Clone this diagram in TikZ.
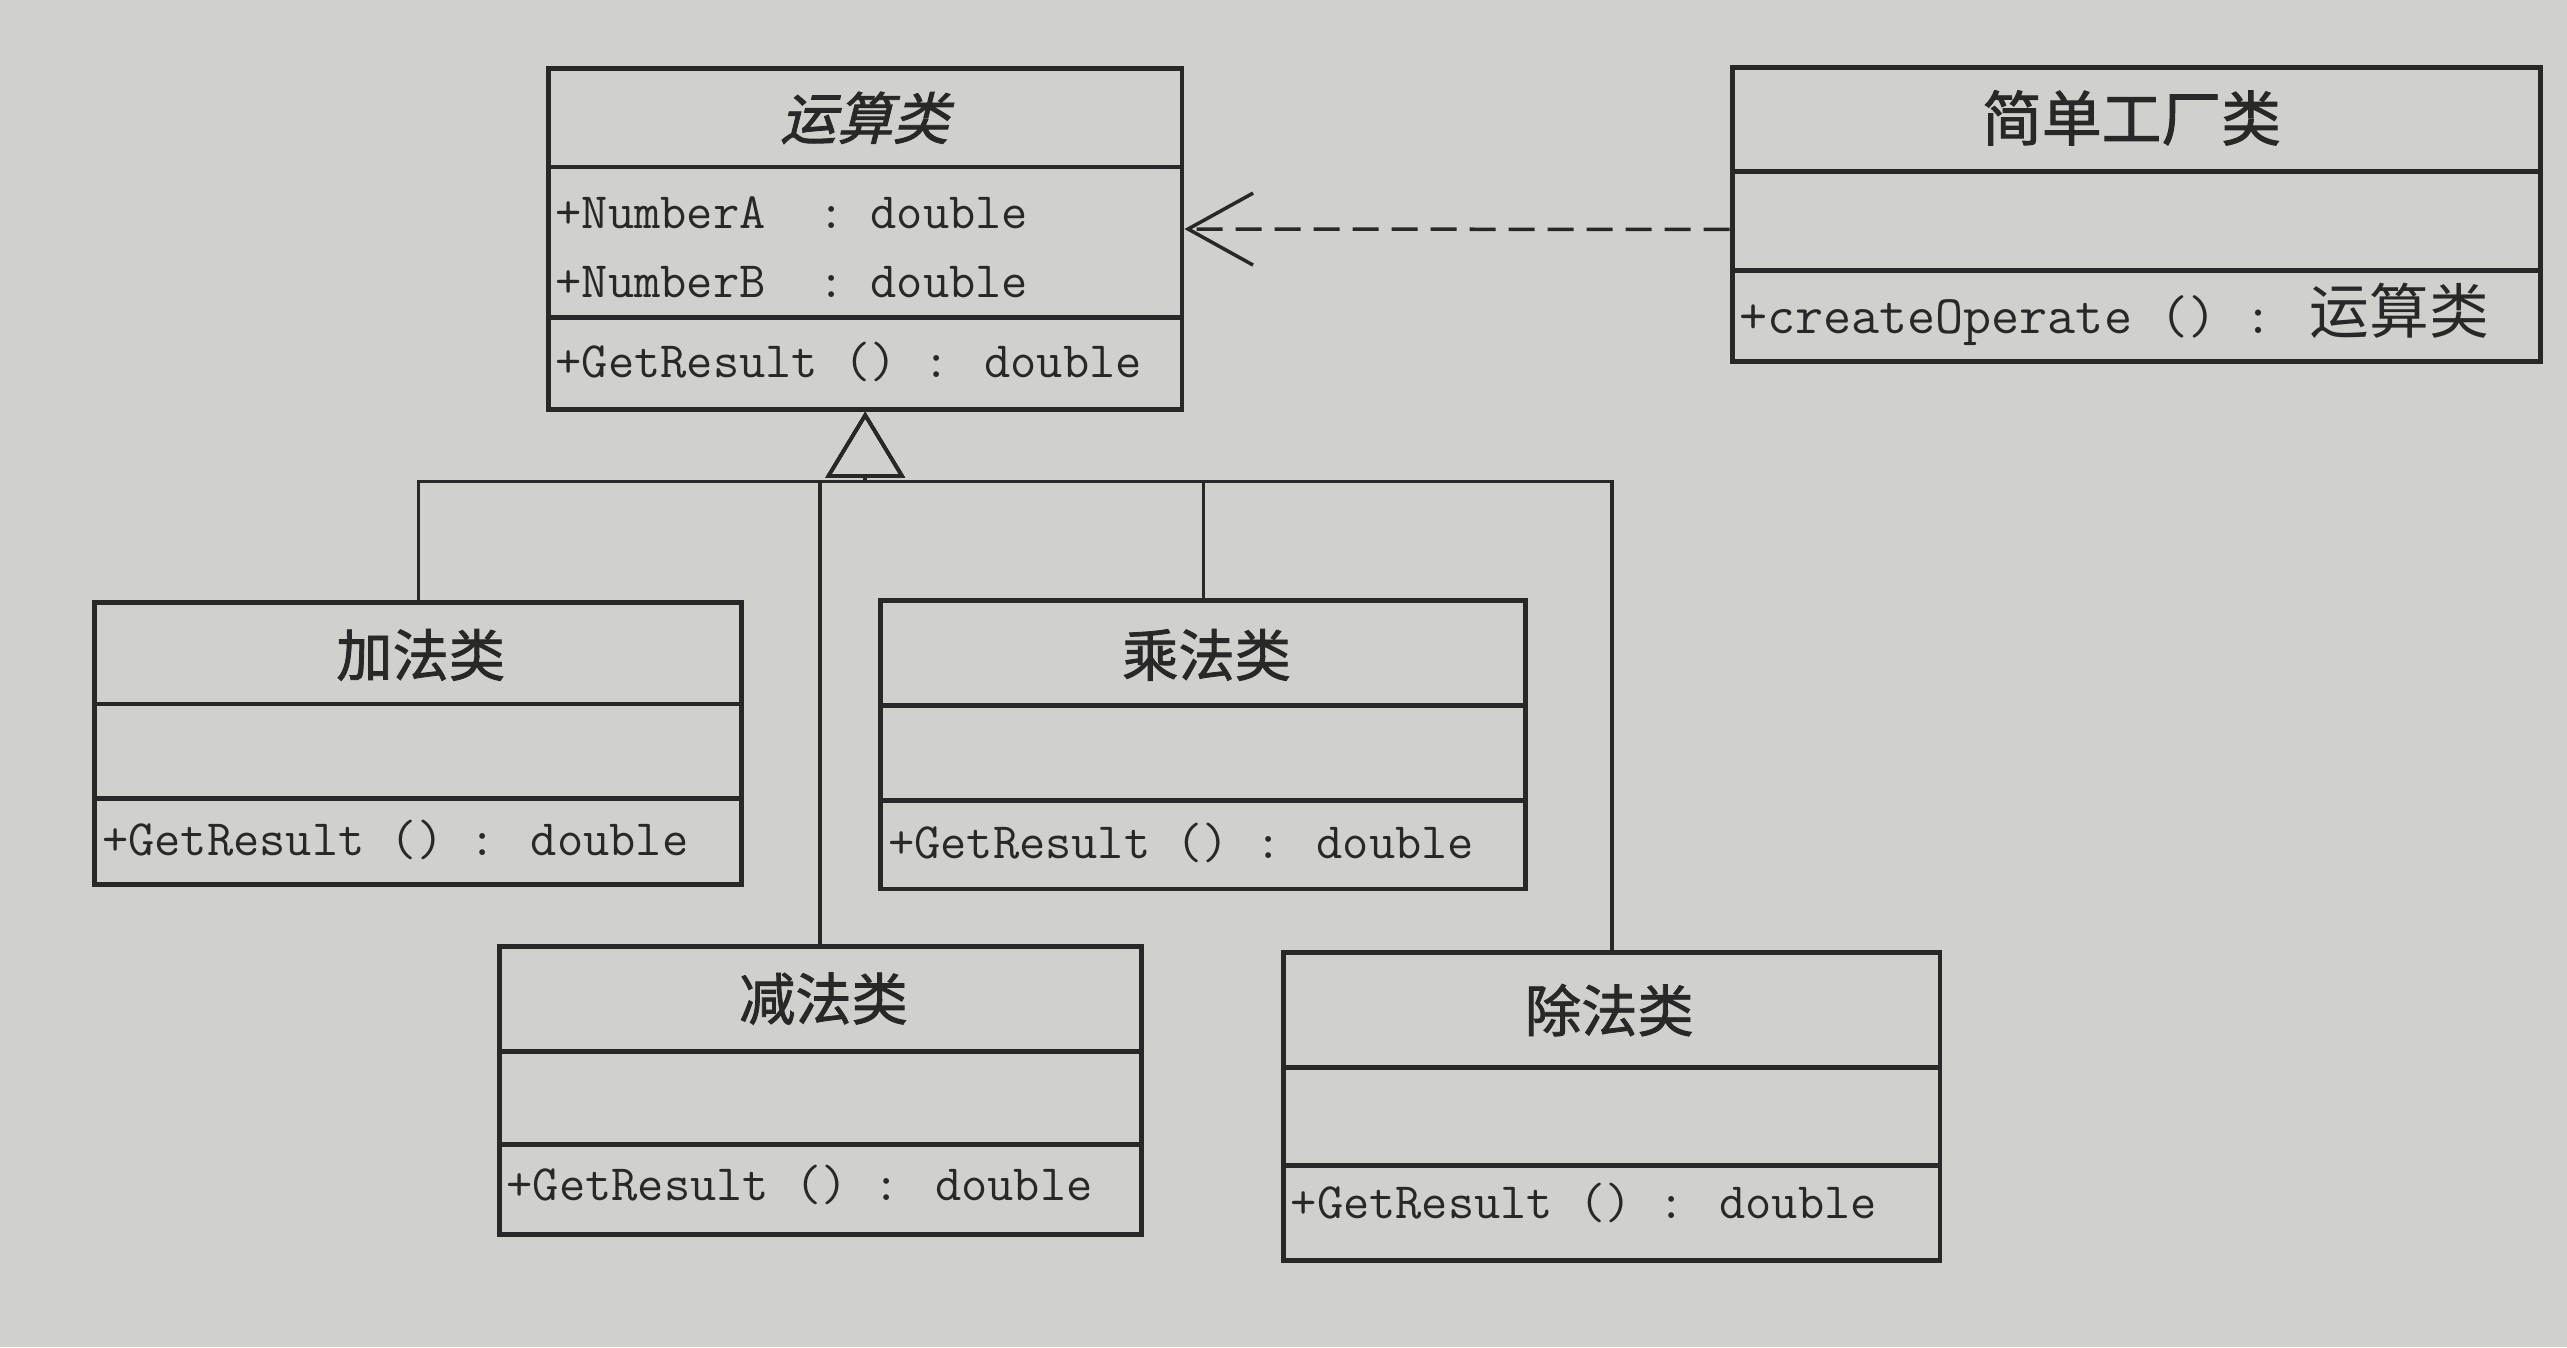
\documentclass[tikz,border=0pt]{standalone}
\usepackage{fontspec}
\usepackage{tikz}
\usepackage{xcolor}
\usetikzlibrary{arrows.meta,fit}
\newfontfamily\cjk{Noto Sans CJK SC}
\newfontfamily\cjkbold[FakeBold=1.5]{Noto Sans CJK SC}
\newfontfamily\cjkslant[FakeBold=1.5,FakeSlant=0.25]{Noto Sans CJK SC}
\definecolor{paper}{RGB}{208,209,204}
\definecolor{ink}{RGB}{40,40,40}

\begin{document}
\begin{tikzpicture}[x=0.01637cm, y=-0.01637cm,
    classbox/.style={draw=ink, line width=1.4pt, inner sep=0pt},
    divider/.style={draw=ink, line width=1.4pt},
    classname/.style={font=\fontsize{16}{18}\selectfont\cjkbold, text=ink},
    member/.style={anchor=west, inner sep=0pt, text=ink, font=\fontsize{14.5}{17}\selectfont\ttfamily},
    inherit/.style={draw=ink, line width=1pt, -{Triangle[open, length=0.66cm, width=0.79cm]}},
    depend/.style={draw=ink, line width=1pt, dash pattern=on 0.26cm off 0.13cm, -{Straight Barb[length=0.65cm, width=0.72cm]}}]
    \fill[paper] (0,0) rectangle (1568,823);
    % Operation class
    \node[classbox, fit={(335,42) (722,250)}] (op) {};
    \draw[divider] (op.west |- 0,102) -- (op.east |- 0,102);
    \draw[divider] (op.west |- 0,194) -- (op.east |- 0,194);
    \node[classname, font=\fontsize{16}{18}\selectfont\cjkslant] (opname) at (528,72) {运算类};
    \node[member] (opa) at (339,130) {+NumberA~~: double};
    \node[member] (opb) at (339,172) {+NumberB~~: double};
    \node[member] (opres) at (339,221) {+GetResult () : double};
    % Factory class
    \node[classbox, fit={(1058,41) (1552,221)}] (fac) {};
    \draw[divider] (fac.west |- 0,105) -- (fac.east |- 0,105);
    \draw[divider] (fac.west |- 0,165) -- (fac.east |- 0,165);
    \node[classname, font=\fontsize{17}{19}\selectfont\cjkbold] (facname) at (1302,72) {简单工厂类};
    \node[member, font=\fontsize{15.5}{18}\selectfont\ttfamily] (faccreate) at (1062,192) {+createOperate () : {\fontsize{17}{19}\selectfont\cjk 运算类}};
    % Subclasses
    \node[classbox, fit={(58,368) (453,540)}] (add) {};
    \draw[divider] (add.west |- 0,430) -- (add.east |- 0,430);
    \draw[divider] (add.west |- 0,488) -- (add.east |- 0,488);
    \node[classname] (addname) at (257,400) {加法类};
    \node[member] (addres) at (62,513) {+GetResult () : double};

    \node[classbox, fit={(538,367) (932,543)}] (mul) {};
    \draw[divider] (mul.west |- 0,431) -- (mul.east |- 0,431);
    \draw[divider] (mul.west |- 0,489) -- (mul.east |- 0,489);
    \node[classname] (mulname) at (737,400) {乘法类};
    \node[member] (mulres) at (542,515) {+GetResult () : double};

    \node[classbox, fit={(305,578) (697,754)}] (sub) {};
    \draw[divider] (sub.west |- 0,642) -- (sub.east |- 0,642);
    \draw[divider] (sub.west |- 0,699) -- (sub.east |- 0,699);
    \node[classname] (subname) at (503,610) {减法类};
    \node[member] (subres) at (309,724) {+GetResult () : double};

    \node[classbox, fit={(784,582) (1185,770)}] (div) {};
    \draw[divider] (div.west |- 0,652) -- (div.east |- 0,652);
    \draw[divider] (div.west |- 0,712) -- (div.east |- 0,712);
    \node[classname] (divname) at (983,617) {除法类};
    \node[member] (divres) at (788,735) {+GetResult () : double};
    % Inheritance
    \coordinate (fork) at (op.south |- 0,294);
    \draw[inherit] (add.north) |- (fork) -- (op.south);
    \draw[inherit] (sub.north) |- (fork) -- (op.south);
    \draw[inherit] (mul.north) |- (fork) -- (op.south);
    \draw[inherit] (div.north) |- (fork) -- (op.south);
    % Dependency
    \draw[depend] ([yshift=-0.15cm]fac.west) -- ([yshift=0.1cm]op.east);
\end{tikzpicture}
\end{document}
